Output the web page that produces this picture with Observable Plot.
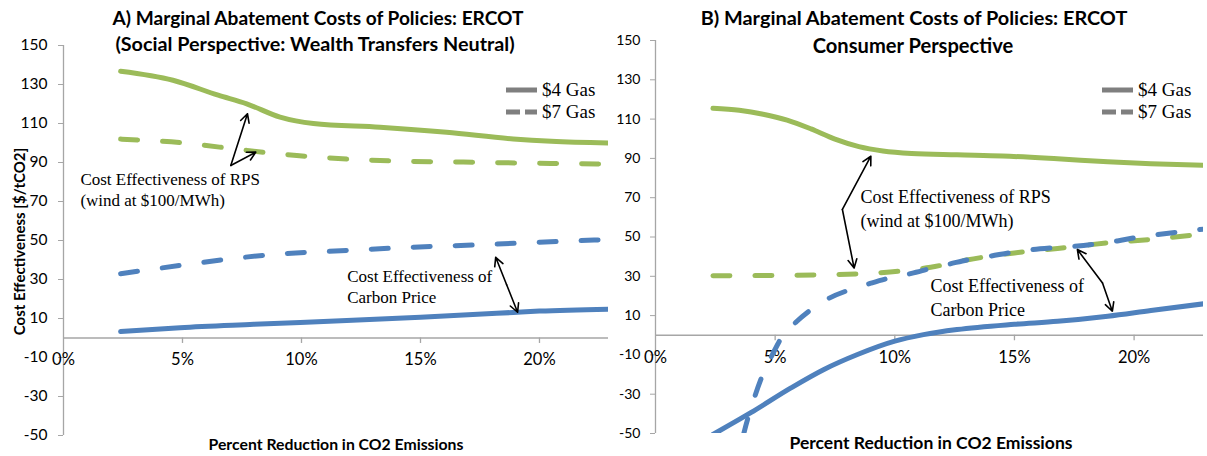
<!DOCTYPE html>
<html>
<head>
<meta charset="utf-8">
<script src="https://cdn.jsdelivr.net/npm/d3@7"></script>
<script src="https://cdn.jsdelivr.net/npm/@observablehq/plot@0.6"></script>
<style>
html,body{margin:0;padding:0;background:#fff;}
#root{position:relative;width:1207px;height:456px;overflow:hidden;background:#fff;}
.panel{position:absolute;top:0;}
.ttl{position:absolute;transform:translate(-50%,-50%);white-space:nowrap;font-family:Lato,sans-serif;font-weight:bold;color:#000;}
.leg{position:absolute;display:flex;align-items:center;white-space:nowrap;font-family:"Liberation Serif",serif;color:#000;transform:translateY(-50%);}
.leg svg{margin-right:5px;}
</style>
</head>
<body>
<div id="root"></div>
<script>
// ---------- text ----------
const titleA = ["A) Marginal Abatement Costs of Policies: ERCOT", "(Social Perspective: Wealth Transfers Neutral)"];
const titleB = ["B) Marginal Abatement Costs of Policies: ERCOT", "Consumer Perspective"];
const xTitle = "Percent Reduction in CO2 Emissions";
const yTitle = "Cost Effectiveness [$/tCO2]";
const legendLabels = ["$4 Gas", "$7 Gas"];
const yTicks = [-50, -30, -10, 10, 30, 50, 70, 90, 110, 130, 150];
const xTicks = [0, 5, 10, 15, 20];

// ---------- series: [percent reduction, $/tCO2] ----------
// Panel A (social perspective)
const A_rps4 = [[2.4,136.8],[4.6,132.2],[6.5,124.5],[7.7,120.1],[9.1,113.3],[10.5,110],[13.3,108.1],[16.1,105.5],[18.9,102.1],[20.5,100.9],[22.9,100]];
const A_rps7 = [[2.4,102],[4.9,100.2],[7.7,96.2],[9.8,93.6],[13.3,91],[16.8,90.2],[20,89.6],[22.9,89.2]];
const A_co27 = [[2.4,33],[4.9,37.2],[7.0,40.6],[9.1,43.1],[11.9,44.9],[14.7,46.6],[17.5,47.8],[20,49.1],[22.9,50.5]];
const A_co24 = [[2.4,3.3],[4.9,5.3],[8,7],[11.9,9],[15,10.7],[18.9,13.1],[20,13.8],[22.9,14.8]];
// Panel B (consumer perspective)
const B_rps4 = [[2.4,115.5],[3.5,114.5],[4.5,112.5],[5.5,109.5],[6.5,105],[7.5,99.8],[8.5,96],[9.5,93.8],[10.7,92.5],[12.6,91.8],[14.5,91.2],[16.8,89.8],[18.9,88.3],[20.7,87.3],[22.9,86.5]];
const B_rps7 = [[2.4,30.3],[5,30.4],[8.4,31.2],[9.8,32.2],[11.5,34.6],[13,38.3],[15,41.9],[16.8,44.2],[18.9,47],[20.7,48.8],[22.9,51.5]];
const B_co27 = [[3.3,-72],[3.7,-49.5],[4.1,-33],[4.5,-19.5],[4.9,-9.5],[5.25,-1.5],[5.9,7],[6.55,13.5],[7.2,18.5],[8.2,23.5],[9,26.5],[9.8,29.2],[10.7,31.5],[11.5,34],[12.3,36.3],[13.2,38.8],[14,40.3],[14.8,42],[15.7,43.5],[16.6,44.5],[17.5,45.3],[18.3,46.3],[19.3,48],[20.1,49.8],[20.7,50.8],[22.9,54]];
const B_co24 = [[2.4,-50.5],[4,-39.3],[5.66,-26.8],[7.04,-17.4],[8.44,-9.8],[10,-3],[11.2,0.3],[12.6,2.9],[15,5.6],[16.8,7.1],[18.9,9.7],[20.7,12.6],[22.9,16]];

// ---------- annotation arrows: [x1,y1,x2,y2] (head at x2,y2) ----------
const A_arrows = [[7.03,88.5,7.73,115],[7.03,88.5,8.08,95.3],[18.62,27.3,18.16,41.4],[18.62,27.3,19.08,13.2]];
const B_arrows = [[7.81,64,9.0,91.1],[7.81,64,8.3,34.2],[18.68,26.6,17.63,43.6],[18.68,26.6,19.09,12.2]];

// ---------- annotation text: [x (left), y (baseline), text] ----------
const A_notes = [[0.71,78.7,"Cost Effectiveness of RPS"],[0.71,67.9,"(wind at $100/MWh)"],[11.92,28.6,"Cost Effectiveness of"],[11.92,18.0,"Carbon Price"]];
const B_notes = [[8.57,67.2,"Cost Effectiveness of RPS"],[8.57,55.3,"(wind at $100/MWh)"],[11.49,21.9,"Cost Effectiveness of"],[11.49,10.0,"Carbon Price"]];

const GREEN = "#9BBB59", BLUE = "#4F81BD", AXIS = "#a6a6a6", LEG = "#7f7f7f";
const DASH = "17,25";

function panel(cfg) {
  const lineOpts = (stroke, dashed) => ({
    x: d => d[0], y: d => d[1], stroke, strokeWidth: 5, curve: "monotone-x", clip: true,
    strokeLinecap: "round", strokeDasharray: dashed ? DASH : null
  });
  return Plot.plot({
    width: cfg.width, height: 456,
    marginLeft: cfg.ml, marginRight: cfg.mr, marginTop: cfg.mt, marginBottom: cfg.mb,
    x: {domain: [0, 22.9], axis: null},
    y: {domain: [-50, 150], axis: null},
    style: {fontFamily: "Lato, sans-serif", background: "transparent", overflow: "visible", color: "#000"},
    marks: [
      Plot.ruleY([0], {stroke: AXIS, strokeWidth: 1.3}),
      Plot.ruleX([0], {stroke: AXIS, strokeWidth: 1.3}),
      Plot.axisY({ticks: yTicks, tickSize: 5, tickPadding: cfg.tp, stroke: AXIS, fill: "#000", label: null, fontSize: cfg.yfs, tickFormat: d => d}),
      Plot.ruleX(xTicks.filter(d => d > 0), {x: d => d, y1: 0, y2: -2.8, stroke: AXIS, strokeWidth: 1.3}),
      Plot.text(xTicks, {x: d => d, y: 0, dy: cfg.xdy, text: d => d + "%", fontSize: 16.5, fill: "#000"}),
      Plot.line(cfg.s.rps4, lineOpts(GREEN, false)),
      Plot.line(cfg.s.rps7, lineOpts(GREEN, true)),
      Plot.line(cfg.s.co27, lineOpts(BLUE, true)),
      Plot.line(cfg.s.co24, lineOpts(BLUE, false)),
      Plot.arrow(cfg.arrows, {x1: d => d[0], y1: d => d[1], x2: d => d[2], y2: d => d[3], stroke: "#000", strokeWidth: 1.6, headLength: 9, headAngle: 55}),
      Plot.text(cfg.notes, {x: d => d[0], y: d => d[1], text: d => d[2], textAnchor: "start", lineAnchor: "bottom",
        fontFamily: "Liberation Serif, serif", fontSize: cfg.nfs, fill: "#000"}),
      ...(cfg.ytitle ? [Plot.text([cfg.ytitle], {frameAnchor: "left", dx: -43, dy: 1, rotate: -90, textAnchor: "middle", lineAnchor: "middle",
        fontWeight: "bold", fontSize: 15, fill: "#000"})] : [])
    ]
  });
}

const root = document.getElementById("root");
function place(el, left) { el.classList.add("panel"); el.style.left = left + "px"; root.appendChild(el); }

place(panel({width: 610, ml: 63, mr: 2, mt: 45, mb: 21, tp: 11, yfs: 15.5, xdy: 21.5, nfs: 17,
  s: {rps4: A_rps4, rps7: A_rps7, co27: A_co27, co24: A_co24}, arrows: A_arrows, notes: A_notes, ytitle: yTitle}), 0);
place(panel({width: 595, ml: 43, mr: 4, mt: 40, mb: 23, tp: 10, yfs: 14, xdy: 22, nfs: 18,
  s: {rps4: B_rps4, rps7: B_rps7, co27: B_co27, co24: B_co24}, arrows: B_arrows, notes: B_notes, ytitle: null}), 612);

// fit a bold Lato text to a target width
const ctx = document.createElement("canvas").getContext("2d");
function fitSize(txt, targetW) {
  ctx.font = "bold 100px Lato";
  return 100 * targetW / ctx.measureText(txt).width;
}
function addText(txt, x, y, targetW) {
  const d = document.createElement("div");
  d.className = "ttl"; d.textContent = txt;
  d.style.left = x + "px"; d.style.top = y + "px"; d.style.fontSize = fitSize(txt, targetW).toFixed(2) + "px";
  root.appendChild(d);
}
addText(titleA[0], 318, 17, 412);
addText(titleA[1], 315, 43, 400);
addText(titleB[0], 914, 17, 428);
addText(titleB[1], 913, 45, 201);
addText(xTitle, 336, 443, 255);
addText(xTitle, 931, 442, 283);

function addLegend(x, y, label, dashed) {
  const d = document.createElement("div");
  d.className = "leg"; d.style.left = x + "px"; d.style.top = y + "px"; d.style.fontSize = "19px";
  const svg = d3.create("svg").attr("width", 31).attr("height", 8);
  svg.append("line").attr("x1", 0).attr("x2", 31).attr("y1", 4).attr("y2", 4)
    .attr("stroke", LEG).attr("stroke-width", 5).attr("stroke-dasharray", dashed ? "14,5" : null);
  d.appendChild(svg.node());
  d.appendChild(document.createTextNode(label));
  root.appendChild(d);
}
addLegend(506, 90, legendLabels[0], false);
addLegend(506, 112, legendLabels[1], true);
addLegend(1102, 90, legendLabels[0], false);
addLegend(1102, 112, legendLabels[1], true);
</script>
</body>
</html>
